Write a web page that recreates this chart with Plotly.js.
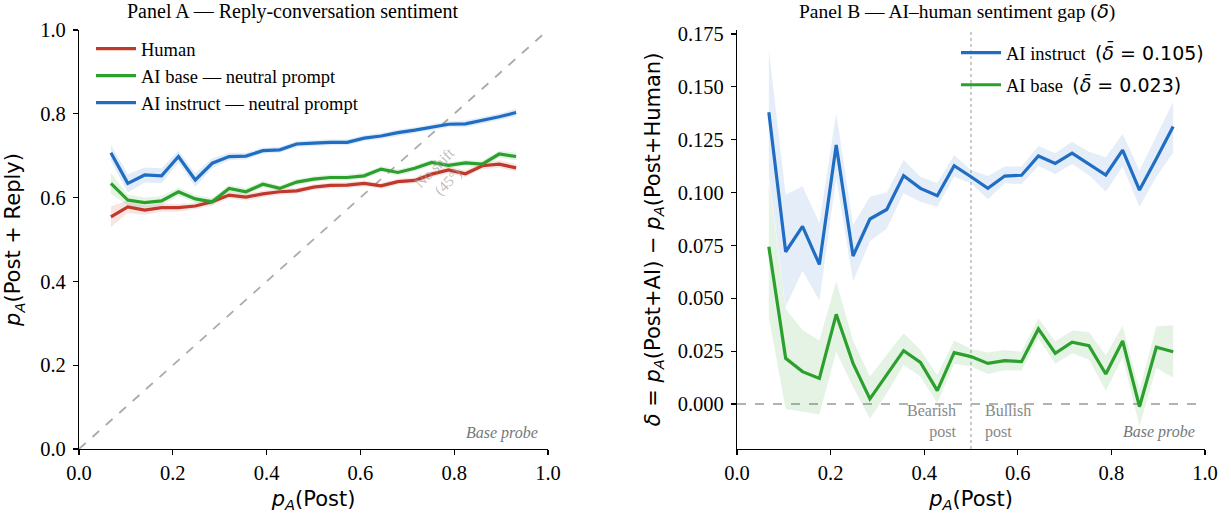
<!DOCTYPE html>
<html><head><meta charset="utf-8">
<script src="https://cdn.plot.ly/plotly-3.0.1.min.js"></script>
<style>html,body{margin:0;padding:0;background:#fff}#chart{width:1231px;height:518px}</style>
</head><body><div id="chart"></div>
<script>
// bin centres of p_A(Post)
const xBins = [0.068,0.104,0.140,0.176,0.212,0.248,0.284,0.320,0.356,0.392,0.428,0.464,0.500,0.536,0.572,0.608,0.644,0.680,0.716,0.752,0.788,0.824,0.860,0.896,0.932];

// Panel A: p_A(Post + Reply)
const humanA = [0.554,0.578,0.570,0.576,0.576,0.580,0.590,0.606,0.601,0.609,0.614,0.616,0.625,0.629,0.630,0.634,0.628,0.638,0.641,0.656,0.666,0.657,0.676,0.680,0.671];
const humanA_lo = [0.529,0.563,0.559,0.566,0.567,0.572,0.582,0.598,0.593,0.601,0.607,0.609,0.618,0.622,0.623,0.627,0.621,0.631,0.634,0.649,0.658,0.649,0.668,0.671,0.662];
const humanA_hi = [0.579,0.593,0.581,0.586,0.585,0.588,0.598,0.614,0.609,0.617,0.621,0.623,0.632,0.636,0.637,0.641,0.635,0.645,0.648,0.663,0.674,0.665,0.684,0.689,0.680];
const baseA = [0.634,0.594,0.588,0.592,0.614,0.597,0.590,0.622,0.614,0.632,0.622,0.637,0.644,0.648,0.648,0.652,0.668,0.660,0.670,0.684,0.677,0.683,0.680,0.704,0.698];
const baseA_lo = [0.609,0.581,0.576,0.581,0.604,0.588,0.581,0.614,0.606,0.624,0.615,0.630,0.637,0.641,0.641,0.645,0.661,0.653,0.663,0.677,0.670,0.676,0.672,0.696,0.689];
const baseA_hi = [0.659,0.607,0.600,0.603,0.624,0.606,0.599,0.630,0.622,0.640,0.629,0.644,0.651,0.655,0.655,0.659,0.675,0.667,0.677,0.691,0.684,0.690,0.688,0.712,0.707];
const instA = [0.707,0.634,0.654,0.652,0.698,0.642,0.682,0.698,0.699,0.712,0.714,0.728,0.730,0.732,0.732,0.742,0.747,0.755,0.761,0.768,0.775,0.776,0.784,0.793,0.803];
const instA_lo = [0.688,0.612,0.636,0.634,0.684,0.626,0.670,0.689,0.691,0.705,0.707,0.721,0.723,0.725,0.725,0.735,0.740,0.748,0.754,0.761,0.768,0.768,0.776,0.785,0.794];
const instA_hi = [0.726,0.656,0.672,0.670,0.712,0.658,0.694,0.707,0.707,0.719,0.721,0.735,0.737,0.739,0.739,0.749,0.754,0.762,0.768,0.775,0.782,0.784,0.792,0.801,0.812];

// Panel B: delta = p_A(Post+AI) - p_A(Post+Human)
const instB = [0.138,0.072,0.084,0.066,0.1225,0.070,0.0875,0.092,0.108,0.102,0.0985,0.1127,0.1075,0.102,0.1078,0.1082,0.1173,0.1138,0.1186,0.1134,0.1083,0.1201,0.1012,0.116,0.1312];
const instB_lo = [0.108,0.046,0.063,0.049,0.107,0.058,0.077,0.083,0.0997,0.0957,0.0933,0.1075,0.1044,0.0968,0.1044,0.104,0.1126,0.1088,0.1135,0.1083,0.1004,0.1123,0.0933,0.1075,0.119];
const instB_hi = [0.1675,0.099,0.103,0.0856,0.1375,0.0847,0.098,0.100,0.1154,0.1075,0.1044,0.1178,0.1107,0.1078,0.1123,0.1123,0.122,0.1186,0.124,0.1193,0.1167,0.1277,0.1104,0.1265,0.143];
const baseB = [0.0744,0.0216,0.0153,0.0121,0.0424,0.0192,0.0024,0.0137,0.0252,0.0197,0.0063,0.0243,0.0224,0.0192,0.0205,0.0200,0.0355,0.0240,0.0292,0.0276,0.0142,0.0298,-0.0013,0.0268,0.0247];
const baseB_lo = [0.041,-0.0024,-0.0036,-0.005,0.0247,0.008,-0.007,0.005,0.0184,0.013,0.0005,0.019,0.0177,0.0142,0.016,0.0158,0.031,0.019,0.024,0.021,0.0063,0.022,-0.0104,0.017,0.0124];
const baseB_hi = [0.106,0.045,0.035,0.030,0.058,0.030,0.013,0.023,0.0335,0.0255,0.0137,0.030,0.026,0.0243,0.0255,0.0247,0.0405,0.0295,0.0347,0.034,0.023,0.037,0.0066,0.0366,0.0372];

const diagX = [0, 1];
const diagY = [0, 1];
const meanDeltaInst = 0.105;
const meanDeltaBase = 0.023;

const RED = '#c0392b', GREEN = '#2ca02c', BLUE = '#1f6ec4';
const SERIF = '"Liberation Serif", "Times New Roman", serif';
const SANS = '"DejaVu Sans", sans-serif';

function band(x, lo, hi, color, xa, ya) {
  return {x: x.concat(x.slice().reverse()), y: hi.concat(lo.slice().reverse()),
    xaxis: xa, yaxis: ya, type: 'scatter', mode: 'lines', fill: 'toself',
    fillcolor: color, line: {width: 0, color: 'rgba(0,0,0,0)'}, hoverinfo: 'skip', showlegend: false};
}
function line(x, y, color, name, xa, ya, lg, grp) {
  return {x: x, y: y, xaxis: xa, yaxis: ya, type: 'scatter', mode: 'lines', name: name,
    line: {color: color, width: 3.2}, legend: lg, legendgroup: grp, showlegend: true};
}
const mathD = v => '<span style="font-family:DejaVu Sans;font-size:19px">(<i>δ̄</i> = ' + v.toFixed(3) + ')</span>';

const traces = [
  {x: diagX, y: diagY, xaxis: 'x', yaxis: 'y', type: 'scatter', mode: 'lines',
   line: {color: '#aaaaaa', width: 1.8, dash: 'dash'}, showlegend: false, hoverinfo: 'skip'},
  band(xBins, humanA_lo, humanA_hi, 'rgba(192,57,43,0.13)', 'x', 'y'),
  band(xBins, baseA_lo, baseA_hi, 'rgba(44,160,44,0.13)', 'x', 'y'),
  band(xBins, instA_lo, instA_hi, 'rgba(31,110,196,0.13)', 'x', 'y'),
  line(xBins, humanA, RED, 'Human', 'x', 'y', 'legend', 'a1'),
  line(xBins, baseA, GREEN, 'AI base — neutral prompt', 'x', 'y', 'legend', 'a2'),
  line(xBins, instA, BLUE, 'AI instruct — neutral prompt', 'x', 'y', 'legend', 'a3'),
  band(xBins, instB_lo, instB_hi, 'rgba(31,110,196,0.12)', 'x2', 'y2'),
  band(xBins, baseB_lo, baseB_hi, 'rgba(44,160,44,0.12)', 'x2', 'y2'),
  line(xBins, instB, BLUE, 'AI instruct  ' + mathD(meanDeltaInst), 'x2', 'y2', 'legend2', 'b1'),
  line(xBins, baseB, GREEN, 'AI base  ' + mathD(meanDeltaBase), 'x2', 'y2', 'legend2', 'b2')
];

const W = 1231;
const axBase = {showgrid: false, zeroline: false, showline: true, linecolor: '#000', linewidth: 1.1,
  ticks: 'outside', ticklen: 5, tickwidth: 1.1, tickcolor: '#000',
  tickfont: {family: SERIF, size: 20.5, color: '#000'}, mirror: false};
const titleFont = {family: SANS, size: 21, color: '#000'};

const layout = {
  width: 1231, height: 518, paper_bgcolor: '#fff', plot_bgcolor: '#fff',
  margin: {l: 0, r: 0, t: 30, b: 69},
  showlegend: true,
  xaxis: Object.assign({}, axBase, {domain: [79/W, 548/W], range: [0, 1], dtick: 0.2, tickformat: '.1f',
    title: {text: '<i>p</i><sub><i>A</i></sub>(Post)', font: titleFont, standoff: 8}, anchor: 'y'}),
  yaxis: Object.assign({}, axBase, {range: [0, 1], dtick: 0.2, tickformat: '.1f', ticklabelstandoff: 3,
    title: {text: '<i>p</i><sub><i>A</i></sub>(Post + Reply)', font: titleFont, standoff: 13}, anchor: 'x'}),
  xaxis2: Object.assign({}, axBase, {domain: [737/W, 1205/W], range: [0, 1], dtick: 0.2, tickformat: '.1f',
    title: {text: '<i>p</i><sub><i>A</i></sub>(Post)', font: titleFont, standoff: 8}, anchor: 'y2'}),
  yaxis2: Object.assign({}, axBase, {range: [-0.0213, 0.1769], tick0: 0, dtick: 0.025, tickformat: '.3f', ticklabelstandoff: 3,
    title: {text: '<i>δ</i> = <i>p</i><sub><i>A</i></sub>(Post+AI) − <i>p</i><sub><i>A</i></sub>(Post+Human)', font: titleFont, standoff: 11}, anchor: 'x2'}),
  legend: {x: 91/W, y: 1.0, xanchor: 'left', yanchor: 'top', bgcolor: 'rgba(0,0,0,0)',
    font: {family: SERIF, size: 18.5, color: '#000'}, tracegroupgap: 0, itemwidth: 40, traceorder: 'grouped'},
  legend2: {x: 956/W, y: 0.99, xanchor: 'left', yanchor: 'top', bgcolor: 'rgba(0,0,0,0)',
    font: {family: SERIF, size: 18.5, color: '#000'}, itemwidth: 40, tracegroupgap: 5, traceorder: 'grouped'},
  shapes: [
    {type: 'line', xref: 'x2', yref: 'y2 domain', x0: 0.5, x1: 0.5, y0: 0, y1: 1,
     line: {color: '#999', width: 1, dash: 'dot'}, layer: 'below'},
    {type: 'line', xref: 'x2 domain', yref: 'y2', x0: 0, x1: 1, y0: 0, y1: 0,
     line: {color: '#999', width: 1.6, dash: 'dash'}, layer: 'below'}
  ],
  annotations: [
    {text: 'Panel A — Reply-conversation sentiment', xref: 'paper', yref: 'paper', x: 292/W, y: 1, yshift: 19,
     showarrow: false, font: {family: SERIF, size: 20, color: '#000'}, xanchor: 'center', yanchor: 'middle'},
    {text: 'Panel B — AI–human sentiment gap (<span style="font-family:DejaVu Sans"><i>δ</i></span>)', xref: 'paper', yref: 'paper', x: 957/W, y: 1, yshift: 19,
     showarrow: false, font: {family: SERIF, size: 19.5, color: '#000'}, xanchor: 'center', yanchor: 'middle'},
    {text: 'No shift<br>(45°)', xref: 'x', yref: 'y', x: 0.775, y: 0.655, showarrow: false, textangle: -45,
     font: {family: SERIF, size: 15, color: 'rgba(160,160,160,0.7)'}},
    {text: '<i>Base probe</i>', xref: 'x', yref: 'y', x: 0.982, y: 0.038, xanchor: 'right', showarrow: false,
     font: {family: SERIF, size: 16, color: '#777'}},
    {text: '<i>Base probe</i>', xref: 'x2', yref: 'y2', x: 0.982, y: -0.0133, xanchor: 'right', showarrow: false,
     font: {family: SERIF, size: 16, color: '#777'}},
    {text: 'Bearish<br>post', xref: 'x2', yref: 'y2', x: 0.472, y: -0.0083, xanchor: 'right', align: 'right', showarrow: false,
     font: {family: SERIF, size: 16, color: '#888'}},
    {text: 'Bullish<br>post', xref: 'x2', yref: 'y2', x: 0.526, y: -0.0083, xanchor: 'left', align: 'left', showarrow: false,
     font: {family: SERIF, size: 16, color: '#888'}}
  ]
};

Plotly.newPlot('chart', traces, layout, {displayModeBar: false, staticPlot: true});
</script></body></html>
